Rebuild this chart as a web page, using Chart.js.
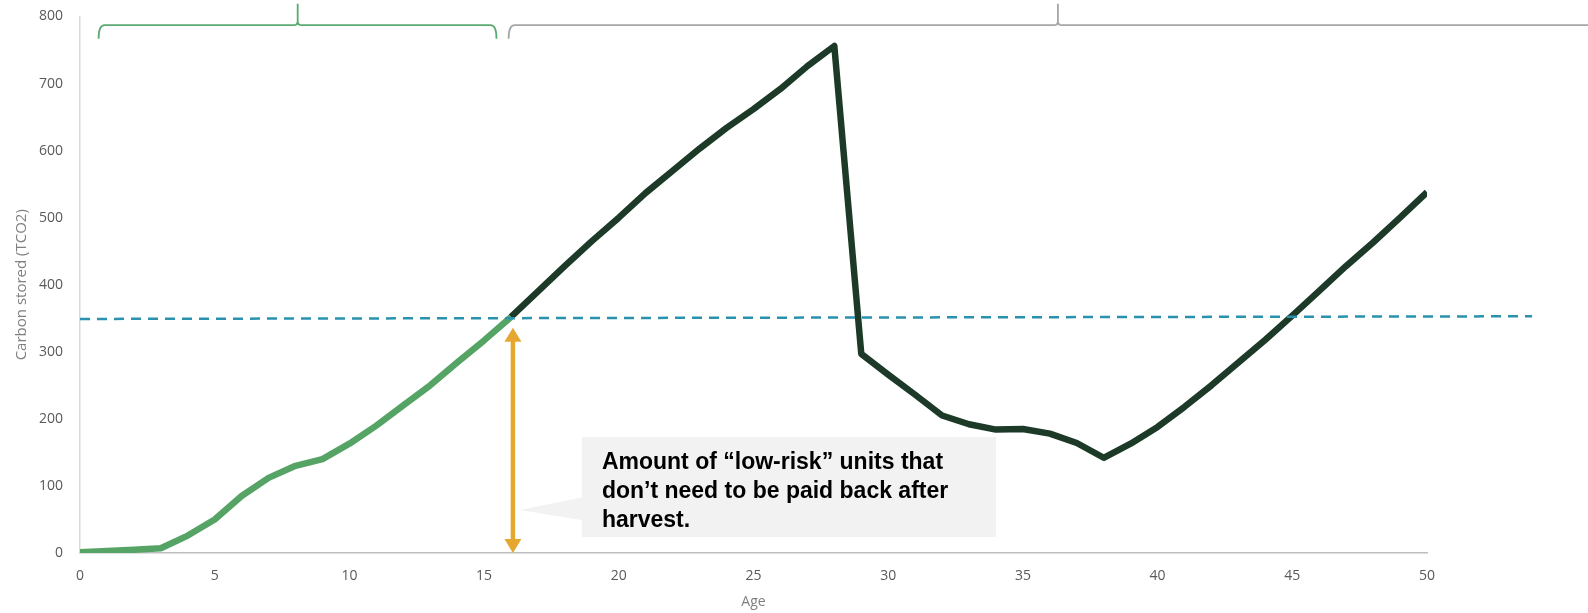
<!DOCTYPE html>
<html>
<head>
<meta charset="utf-8">
<script src="https://cdn.jsdelivr.net/npm/chart.js@4.4.1/dist/chart.umd.min.js"></script>
<style>
  html, body { margin: 0; padding: 0; background: #ffffff; }
  #wrap { width: 1588px; height: 613px; }
</style>
</head>
<body>
<div id="wrap"><canvas id="c" width="1588" height="613"></canvas></div>
<script>
// ---- Data ----
const growthAges   = [0,1,2,3,4,5,6,7,8,9,10,11,12,13,14,15,16];
const growthValues = [1,3,5,7,26,50,85,112,130,140,163,190,220,250,284,317,352];

const laterAges    = [16,17,18,19,20,21,22,23,24,25,26,27,28,29,30,31,32,33,34,35,36,37,38,39,40,41,42,43,44,45,46,47,48,49,50];
const laterValues  = [352,390,428,465,500,537,570,603,634,662,692,726,756,297,266,236,205,192,184,185,178,164,142,163,188,218,250,284,318,354,391,428,463,500,538];

const thresholdAges   = [0, 53.9];
const thresholdValues = [349, 353];

const xTicks = [0,5,10,15,20,25,30,35,40,45,50];
const yTicks = [0,100,200,300,400,500,600,700,800];

// bracket positions in data units: [start, tip, end]
const greenBracket = [0.69, 8.08, 15.46];
const grayBracket  = [15.91, 36.3, 57];
const bracketLevels = { top: 787, end: 767, tip: 819 };

// double arrow (age, from value, to value)
const arrowSpec = { age: 16.07, top: 336, bottom: 0 };

// callout box in data units
const calloutBox  = { x0: 18.63, x1: 34.0, y0: 24, y1: 173 };
const calloutTip  = { x: 16.33, y: 64, baseTop: 83, baseBottom: 49 };
const calloutText = ["Amount of \u201Clow-risk\u201D units that", "don\u2019t need to be paid back after", "harvest."];

// ---- Plugins ----
const decorPlugin = {
  id: 'decor',
  afterDatasetsDraw(chart) {
    const ctx = chart.ctx;
    const xs = chart.scales.x, ys = chart.scales.y;
    const X = v => xs.getPixelForValue(v);
    const Y = v => ys.getPixelForValue(v);

    // brackets
    function bracket(b, color) {
      const x0 = X(b[0]), xm = X(b[1]), x1 = X(b[2]);
      const yt = Y(bracketLevels.top), ye = Y(bracketLevels.end), yp = Y(bracketLevels.tip);
      const r = 6, r2 = 4;
      ctx.save();
      ctx.strokeStyle = color;
      ctx.lineWidth = 1.8;
      ctx.beginPath();
      ctx.moveTo(x0, ye);
      ctx.quadraticCurveTo(x0, yt, x0 + r, yt);
      ctx.lineTo(xm - r2, yt);
      ctx.quadraticCurveTo(xm, yt, xm, yt - r2);
      ctx.lineTo(xm, yp);
      ctx.moveTo(xm, yt - r2);
      ctx.quadraticCurveTo(xm, yt, xm + r2, yt);
      ctx.lineTo(x1 - r, yt);
      ctx.quadraticCurveTo(x1, yt, x1, ye);
      ctx.stroke();
      ctx.restore();
    }
    bracket(greenBracket, '#5BAA72');
    bracket(grayBracket, '#A6A6A6');

    // callout box
    ctx.save();
    ctx.fillStyle = '#F2F2F2';
    const bx0 = X(calloutBox.x0), bx1 = X(calloutBox.x1);
    const by0 = Y(calloutBox.y1), by1 = Y(calloutBox.y0);
    ctx.beginPath();
    ctx.rect(bx0, by0, bx1 - bx0, by1 - by0);
    ctx.fill();
    ctx.beginPath();
    ctx.moveTo(bx0 + 1, Y(calloutTip.baseTop));
    ctx.lineTo(X(calloutTip.x), Y(calloutTip.y));
    ctx.lineTo(bx0 + 1, Y(calloutTip.baseBottom));
    ctx.closePath();
    ctx.fill();
    ctx.fillStyle = '#000000';
    ctx.font = 'bold 23px "Liberation Sans", Arial, sans-serif';
    ctx.textBaseline = 'middle';
    ctx.textAlign = 'left';
    const lineH = 29;
    const midY = (by0 + by1) / 2;
    calloutText.forEach((t, i) => {
      ctx.fillText(t, bx0 + 20, midY + (i - 1) * lineH + 5);
    });
    ctx.restore();

    // double arrow
    ctx.save();
    const ax = X(arrowSpec.age), aT = Y(arrowSpec.top), aB = Y(arrowSpec.bottom);
    const hw = 8.5, hh = 14;
    ctx.strokeStyle = '#E6A731';
    ctx.fillStyle = '#E6A731';
    ctx.lineWidth = 4.5;
    ctx.beginPath();
    ctx.moveTo(ax, aT + hh - 1);
    ctx.lineTo(ax, aB - hh + 1);
    ctx.stroke();
    ctx.beginPath();
    ctx.moveTo(ax, aT); ctx.lineTo(ax - hw, aT + hh); ctx.lineTo(ax + hw, aT + hh); ctx.closePath(); ctx.fill();
    ctx.beginPath();
    ctx.moveTo(ax, aB); ctx.lineTo(ax - hw, aB - hh); ctx.lineTo(ax + hw, aB - hh); ctx.closePath(); ctx.fill();
    ctx.restore();
  }
};

const tickFont = { family: '"Open Sans", "DejaVu Sans", sans-serif', size: 14 };

new Chart(document.getElementById('c'), {
  type: 'line',
  data: {
    datasets: [
      {
        label: 'Growth',
        data: growthAges.map((a, i) => ({ x: a, y: growthValues[i] })),
        borderColor: '#55A466',
        borderWidth: 6.5,
        pointRadius: 0,
        tension: 0,
        borderJoinStyle: 'round',
        borderCapStyle: 'butt',
        order: 3
      },
      {
        label: 'After',
        data: laterAges.map((a, i) => ({ x: a, y: laterValues[i] })),
        borderColor: '#1D3A28',
        borderWidth: 6.5,
        pointRadius: 0,
        tension: 0,
        borderJoinStyle: 'round',
        borderCapStyle: 'butt',
        order: 2
      },
      {
        label: 'Threshold',
        data: thresholdAges.map((a, i) => ({ x: a, y: thresholdValues[i] })),
        borderColor: '#2A91AF',
        borderWidth: 2.5,
        borderDash: [10, 7],
        pointRadius: 0,
        clip: false,
        order: 1
      }
    ]
  },
  options: {
    responsive: false,
    animation: false,
    devicePixelRatio: 1,
    layout: { padding: { left: 0, right: 161, top: 16.5, bottom: 0 } },
    plugins: { legend: { display: false }, tooltip: { enabled: false } },
    scales: {
      x: {
        type: 'linear',
        min: 0, max: 50,
        afterBuildTicks: s => { s.ticks = xTicks.map(v => ({ value: v })); },
        afterFit: s => { s.height = 60; s.paddingLeft = 0; s.paddingRight = 0; },
        grid: { display: false, drawTicks: false },
        border: { display: true, color: '#BFBFBF', width: 1.5 },
        ticks: { font: tickFont, color: '#595959', padding: 15, maxRotation: 0 },
        title: { display: true, text: 'Age', font: tickFont, color: '#7F7F7F', padding: { top: 0, bottom: 3 } }
      },
      y: {
        min: 0, max: 800,
        afterBuildTicks: s => { s.ticks = yTicks.map(v => ({ value: v })); },
        afterFit: s => { s.width = 80; s.paddingTop = 0; s.paddingBottom = 0; },
        grid: { display: false, drawTicks: false },
        border: { display: true, color: '#D9D9D9', width: 1.5 },
        ticks: { font: tickFont, color: '#595959', padding: 17 },
        title: { display: true, text: 'Carbon stored (TCO2)', font: { family: '"Open Sans", "DejaVu Sans", sans-serif', size: 15 }, color: '#7F7F7F', padding: { top: 13, bottom: 0 } }
      }
    }
  },
  plugins: [decorPlugin]
});
</script>
</body>
</html>
